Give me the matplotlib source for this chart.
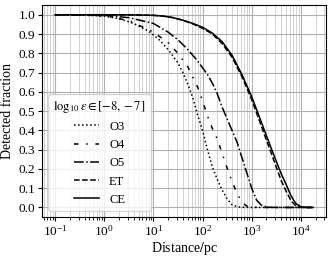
import matplotlib
matplotlib.use('Agg')
import matplotlib.pyplot as plt
import numpy as np

# log10 of distance (pc) and detected fraction
o3_logd = [-1, -0.5, 0, 0.3, 0.6, 0.9, 1.1, 1.3, 1.5, 1.6, 1.7, 1.8, 1.9, 2.0,
           2.1, 2.2, 2.3, 2.4, 2.5, 2.6, 2.7, 2.8, 3.0, 4.25]
o3_frac = [1.0, 0.999, 0.993, 0.98, 0.955, 0.915, 0.875, 0.82, 0.75, 0.70, 0.64, 0.57, 0.48, 0.40,
           0.30, 0.21, 0.145, 0.09, 0.045, 0.014, 0.004, 0.001, 0.0, 0.0]

o4_logd = [-1, 0, 0.5, 1.0, 1.3, 1.5, 1.7, 1.9, 2.0, 2.1, 2.2, 2.3, 2.4, 2.5,
           2.6, 2.7, 2.8, 2.9, 3.0, 3.2, 4.25]
o4_frac = [1.0, 0.995, 0.97, 0.91, 0.855, 0.80, 0.73, 0.625, 0.555, 0.475, 0.41, 0.355, 0.28, 0.205,
           0.135, 0.075, 0.027, 0.007, 0.001, 0.0, 0.0]

o5_logd = [-1, 0, 0.5, 1.0, 1.3, 1.5, 1.7, 1.9, 2.1, 2.2, 2.3, 2.4, 2.5, 2.6,
           2.7, 2.8, 2.9, 3.0, 3.1, 3.2, 3.3, 3.4, 3.6, 4.25]
o5_frac = [1.0, 0.997, 0.985, 0.955, 0.91, 0.87, 0.82, 0.76, 0.69, 0.645, 0.59, 0.52, 0.46, 0.40,
           0.34, 0.26, 0.18, 0.10, 0.038, 0.011, 0.003, 0.0005, 0.0, 0.0]

et_logd = [-1, 0, 0.5, 1.0, 1.2, 1.4, 1.6, 1.8, 2.0, 2.2, 2.4, 2.6, 2.8, 3.0,
           3.2, 3.4, 3.6, 3.7, 3.8, 3.9, 4.0, 4.1, 4.25]
et_frac = [1.0, 1.0, 0.9995, 0.997, 0.993, 0.985, 0.971, 0.953, 0.93, 0.90, 0.85, 0.78, 0.68, 0.56,
           0.42, 0.28, 0.14, 0.085, 0.035, 0.008, 0.001, 0.0, 0.0]

ce_logd = [-1, 0, 0.5, 1.0, 1.2, 1.4, 1.6, 1.8, 2.0, 2.2, 2.4, 2.6, 2.8, 3.0,
           3.2, 3.4, 3.6, 3.7, 3.8, 3.9, 4.0, 4.1, 4.25]
ce_frac = [1.0, 1.0, 0.9995, 0.997, 0.993, 0.985, 0.972, 0.955, 0.935, 0.905, 0.86, 0.79, 0.69, 0.575,
           0.44, 0.305, 0.175, 0.12, 0.06, 0.02, 0.004, 0.001, 0.0]

labels = ['O3', 'O4', 'O5', 'ET', 'CE']

plt.rcParams['font.family'] = 'serif'
plt.rcParams['font.serif'] = ['Liberation Serif', 'DejaVu Serif']
plt.rcParams['mathtext.fontset'] = 'stix'
plt.rcParams['font.size'] = 10

fig, ax = plt.subplots(figsize=(3.32, 2.56), dpi=100)
fig.subplots_adjust(left=0.127, right=0.982, bottom=0.152, top=0.98)

styles = [':', (0, (3, 5, 1, 5)), '-.', '--', '-']
series = [(o3_logd, o3_frac), (o4_logd, o4_frac), (o5_logd, o5_frac),
          (et_logd, et_frac), (ce_logd, ce_frac)]
for (ld, fr), ls, lab in zip(series, styles, labels):
    ax.plot(10**np.array(ld), fr, color='black', ls=ls, lw=1.1, label=lab)

ax.set_xscale('log')
ax.set_yticks(np.arange(0, 1.01, 0.1))
ax.tick_params(which='major', labelsize=9.5, length=3, pad=2)
ax.tick_params(which='minor', length=1.8)
ax.grid(True, which='major', color='#b0b0b0', lw=0.8)
ax.grid(True, which='minor', axis='x', color='#b0b0b0', lw=0.5, alpha=0.8)
ax.set_xlabel('Distance$/$pc', labelpad=1)
ax.set_ylabel('Detected fraction', labelpad=3)
ax.legend(loc='lower left', fontsize=9, title_fontsize=9,
          title=r'$\log_{10}\varepsilon \in [-8, -7]$')

plt.savefig('out.png', dpi=100)
